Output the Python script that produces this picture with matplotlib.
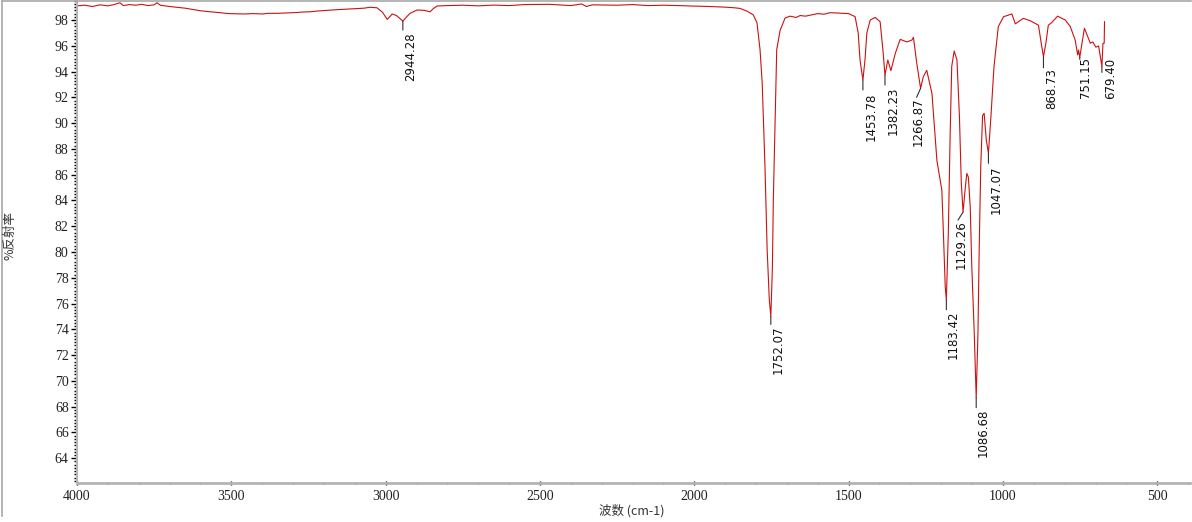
import numpy as np
import matplotlib
matplotlib.use('Agg')
import matplotlib.pyplot as plt
from matplotlib.ticker import MultipleLocator
from matplotlib.lines import Line2D

# spectrum (wavenumber cm-1, %R)
wavenumber = [4000, 3975, 3950, 3925, 3900, 3880, 3861, 3850, 3830, 3810, 3790, 3770, 3750, 3741,
              3730, 3700, 3676, 3650, 3620, 3600, 3569, 3540, 3510, 3480, 3459, 3430, 3400, 3380,
              3352, 3320, 3290, 3270, 3245, 3220, 3190, 3160, 3135, 3100, 3070, 3051, 3028, 3010,
              2995, 2985, 2979, 2965, 2944.28, 2930, 2921, 2898, 2875, 2856, 2845, 2833, 2800,
              2750, 2700, 2650, 2600, 2550, 2470, 2400, 2365, 2350, 2330, 2250, 2200, 2150, 2100,
              2050, 2000, 1950, 1900, 1870, 1852, 1830, 1809, 1797, 1787, 1780, 1771, 1764, 1757,
              1752.07, 1747, 1744, 1738, 1733, 1722, 1706, 1690, 1670, 1657, 1640, 1620, 1600,
              1580, 1560, 1540, 1520, 1500, 1479, 1469, 1463, 1453.78, 1447, 1441, 1430, 1414,
              1398, 1389, 1382.23, 1373, 1363, 1349, 1333, 1311, 1295, 1290, 1279, 1266.87, 1258,
              1247, 1230, 1214, 1198, 1193, 1187, 1183.42, 1177, 1171, 1166, 1158, 1149, 1141,
              1135, 1129.26, 1122, 1117, 1112, 1106, 1101, 1093, 1086.68, 1081, 1077, 1072, 1066,
              1061, 1054, 1047.07, 1039, 1029, 1015, 998, 971, 960, 950, 934, 912, 885, 876,
              868.73, 861, 853, 842, 823, 809, 798, 782, 766, 758, 755, 751.15, 744, 736, 725,
              717, 709, 699, 690, 679.40, 676, 672, 671]
reflectance = [99.10, 99.15, 99.05, 99.18, 99.10, 99.20, 99.34, 99.12, 99.20, 99.15, 99.22, 99.12, 99.18, 99.34,
               99.15, 99.05, 98.99, 98.92, 98.80, 98.72, 98.64, 98.58, 98.50, 98.48, 98.47, 98.50, 98.47, 98.52,
               98.52, 98.55, 98.58, 98.62, 98.64, 98.70, 98.75, 98.80, 98.83, 98.88, 98.92, 98.99, 98.95, 98.60,
               98.05, 98.30, 98.47, 98.35, 97.92, 98.30, 98.52, 98.78, 98.75, 98.64, 98.90, 99.09, 99.12,
               99.15, 99.10, 99.16, 99.12, 99.20, 99.22, 99.12, 99.25, 99.05, 99.18, 99.15, 99.20, 99.12, 99.15,
               99.12, 99.08, 99.05, 99.00, 98.95, 98.90, 98.70, 98.40, 97.80, 95.70, 93.10, 86.60, 80.20, 76.30,
               75.00, 78.80, 84.00, 90.50, 95.70, 97.20, 98.15, 98.30, 98.20, 98.35, 98.30, 98.40, 98.50,
               98.45, 98.57, 98.55, 98.52, 98.50, 98.26, 96.99, 94.90, 93.35, 94.90, 97.00, 98.00, 98.20,
               97.87, 95.70, 93.73, 94.90, 94.07, 95.40, 96.50, 96.30, 96.45, 96.66, 94.60, 92.70, 93.60,
               94.10, 92.30, 87.10, 84.80, 81.50, 77.30, 76.30, 81.50, 89.20, 94.40, 95.60, 94.90, 90.50,
               85.35, 83.10, 85.00, 86.10, 85.80, 83.50, 78.90, 73.70, 68.70, 73.70, 80.20, 86.60, 90.60,
               90.76, 88.70, 87.66, 90.50, 94.40, 97.50, 98.26, 98.47, 97.70, 97.87, 98.13, 97.95, 97.60, 96.20,
               95.15, 96.20, 97.60, 97.80, 98.30, 98.13, 98.00, 97.50, 96.45, 95.30, 95.67, 95.10, 96.20, 97.36, 96.70,
               96.20, 96.30, 95.90, 95.98, 94.40, 96.20, 96.20, 97.87]

peak_labels = ['2944.28', '1752.07', '1453.78', '1382.23', '1266.87', '1183.42',
               '1129.26', '1086.68', '1047.07', '868.73', '751.15', '679.40']

fig = plt.figure(figsize=(11.92, 5.22), dpi=100)
ax = fig.add_axes([77 / 1192, 39.3 / 522, 1113 / 1192, 482 / 522])

ax.plot(wavenumber, reflectance, color='#cc1111', lw=0.8)
ax.set_xlim(4000, 394)
ax.set_ylim(62.1, 99.5)

# peak labels: leader end offset and text offset in pixels
leader = [(0, -9), (0, -8), (0, -10), (0, -10), (-4, -9), (0, -10),
          (-5, -8), (0, -10), (0, -10), (0, -11), (0, -2), (0, -6)]
text_off = [(8, -11), (7, -9), (8, -13), (8, -12), (-2, -9), (7, -11),
            (-2, -8), (7, -11), (8, -12), (8, -11), (6, 0), (9, 9)]

wn_rev = np.array(wavenumber[::-1], dtype=float)
r_rev = np.array(reflectance[::-1], dtype=float)
for lab, (lx, ly), (tx, ty) in zip(peak_labels, leader, text_off):
    w = float(lab)
    r = np.interp(w, wn_rev, r_rev)
    ax.annotate('', xy=(w, r), xytext=(lx, ly), textcoords='offset pixels',
                arrowprops=dict(arrowstyle='-', color='#303030', lw=0.8, shrinkA=0, shrinkB=0))
    ax.annotate(lab, xy=(w, r), xytext=(tx, ty), textcoords='offset pixels',
                rotation=90, ha='center', va='top', fontsize=8.5, color='#111111',
                family='DejaVu Sans')

# axes look
for s in ['top', 'right']:
    ax.spines[s].set_visible(False)
ax.spines['left'].set_color('#b4b4b4')
ax.spines['left'].set_linewidth(1.5)
ax.spines['bottom'].set_color('#b4b4b4')
ax.spines['bottom'].set_linewidth(2)

ax.yaxis.set_major_locator(MultipleLocator(2))
ax.yaxis.set_minor_locator(MultipleLocator(0.25))
ax.xaxis.set_major_locator(MultipleLocator(500))
ax.xaxis.set_minor_locator(MultipleLocator(100))
ax.tick_params(axis='y', which='major', length=4, width=1, color='k', pad=2, labelsize=10)
ax.tick_params(axis='y', which='minor', length=2, width=1, color='k')
ax.tick_params(axis='x', which='major', length=3, width=1, color='k', direction='inout', pad=4, labelsize=10)
ax.tick_params(axis='x', which='minor', length=2, width=1, color='k', direction='inout')
for lbl in ax.get_xticklabels() + ax.get_yticklabels():
    lbl.set_family('Liberation Serif')
    lbl.set_color('#222222')

cjk = ['Noto Sans CJK SC', 'DejaVu Sans']
fig.text(10 / 1192, 1 - 235 / 522, '%反射率', rotation=90, ha='center', va='center',
         fontsize=9, family=cjk, color='#333333')
fig.text(632 / 1192, 1 - 511 / 522, '波数 (cm-1)', ha='center', va='center',
         fontsize=9, family=cjk, color='#333333')

# window frame lines
fig.add_artist(Line2D([0.0015, 0.0015], [0.012, 0.998], transform=fig.transFigure, color='#a8a8a8', lw=1.2))
fig.add_artist(Line2D([0.0015, 0.999], [0.998, 0.998], transform=fig.transFigure, color='#a8a8a8', lw=1.2))

fig.savefig('out.png', dpi=100)
